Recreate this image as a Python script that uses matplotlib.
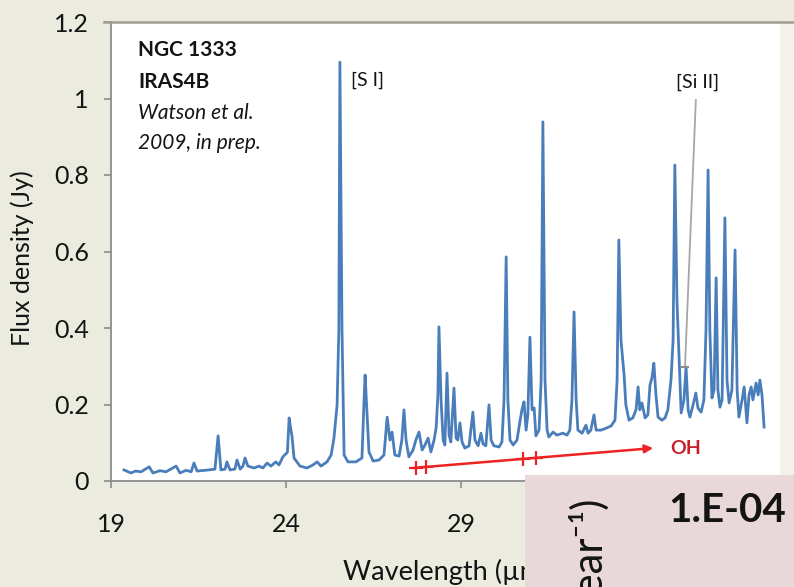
import matplotlib
matplotlib.use("Agg")
import matplotlib.pyplot as plt
from matplotlib.patches import Rectangle
from matplotlib.lines import Line2D

# Spectrum of NGC 1333 IRAS4B: wavelength (um) and flux density (Jy)
wavelength_um = [
    19.37, 19.57, 19.70, 19.86, 20.09, 20.20, 20.40, 20.57, 20.86, 20.97,
    21.15, 21.29, 21.37, 21.46, 21.80, 21.97, 22.06, 22.14, 22.26, 22.31,
    22.40, 22.54, 22.60, 22.69, 22.77, 22.83, 22.91, 23.09, 23.23, 23.34,
    23.46, 23.57, 23.71, 23.80, 23.91, 24.04, 24.09, 24.13, 24.17, 24.23,
    24.40, 24.60, 24.77, 24.89, 25.00, 25.17, 25.29, 25.37, 25.46, 25.51,
    25.54, 25.60, 25.66, 25.77, 26.00, 26.17, 26.23, 26.26, 26.31, 26.37,
    26.49, 26.66, 26.80, 26.89, 26.97, 27.03, 27.11, 27.23, 27.31, 27.37,
    27.43, 27.51, 27.63, 27.71, 27.80, 27.89, 27.97, 28.06, 28.14, 28.23,
    28.29, 28.34, 28.37, 28.43, 28.49, 28.54, 28.60, 28.66, 28.71, 28.80,
    28.86, 28.91, 28.97, 29.03, 29.11, 29.23, 29.34, 29.40, 29.49, 29.57,
    29.63, 29.71, 29.80, 29.86, 29.94, 30.09, 30.17, 30.23, 30.29, 30.34,
    30.40, 30.49, 30.60, 30.69, 30.74, 30.80, 30.86, 30.91, 30.97, 31.03,
    31.09, 31.14, 31.23, 31.29, 31.34, 31.40, 31.46, 31.51, 31.63, 31.74,
    31.91, 32.03, 32.11, 32.17, 32.23, 32.29, 32.34, 32.46, 32.57, 32.63,
    32.71, 32.80, 32.86, 33.00, 33.17, 33.29, 33.40, 33.46, 33.51, 33.57,
    33.66, 33.71, 33.80, 33.91, 34.00, 34.06, 34.11, 34.17, 34.26, 34.34,
    34.40, 34.46, 34.51, 34.57, 34.63, 34.74, 34.83, 34.91, 35.00, 35.06,
    35.11, 35.17, 35.23, 35.29, 35.37, 35.43, 35.49, 35.54, 35.63, 35.71,
    35.77, 35.86, 35.94, 36.00, 36.06, 36.11, 36.17, 36.23, 36.29, 36.34,
    36.40, 36.46, 36.54, 36.60, 36.66, 36.74, 36.83, 36.89, 36.94, 37.03,
    37.09, 37.17, 37.23, 37.29, 37.34, 37.43, 37.49, 37.54, 37.60, 37.66,
]
flux_jy = [
    0.029, 0.021, 0.026, 0.024, 0.037, 0.021, 0.027, 0.024, 0.039, 0.021,
    0.028, 0.024, 0.047, 0.026, 0.029, 0.031, 0.118, 0.029, 0.031, 0.050,
    0.029, 0.031, 0.055, 0.031, 0.039, 0.060, 0.039, 0.034, 0.039, 0.034,
    0.047, 0.039, 0.050, 0.042, 0.063, 0.075, 0.165, 0.140, 0.118, 0.060,
    0.039, 0.034, 0.042, 0.050, 0.039, 0.050, 0.068, 0.112, 0.199, 0.395,
    1.095, 0.395, 0.068, 0.050, 0.050, 0.060, 0.212, 0.277, 0.186, 0.076,
    0.052, 0.055, 0.068, 0.167, 0.107, 0.128, 0.068, 0.065, 0.107, 0.186,
    0.107, 0.063, 0.081, 0.107, 0.128, 0.081, 0.094, 0.112, 0.076, 0.107,
    0.139, 0.225, 0.403, 0.212, 0.107, 0.094, 0.282, 0.120, 0.102, 0.243,
    0.112, 0.107, 0.152, 0.102, 0.086, 0.092, 0.180, 0.107, 0.092, 0.125,
    0.097, 0.092, 0.199, 0.107, 0.092, 0.089, 0.102, 0.212, 0.586, 0.212,
    0.107, 0.094, 0.107, 0.159, 0.186, 0.207, 0.133, 0.173, 0.376, 0.186,
    0.191, 0.118, 0.133, 0.264, 0.939, 0.264, 0.133, 0.115, 0.128, 0.120,
    0.125, 0.120, 0.133, 0.212, 0.442, 0.212, 0.133, 0.125, 0.146, 0.125,
    0.133, 0.173, 0.133, 0.133, 0.139, 0.144, 0.159, 0.264, 0.630, 0.369,
    0.277, 0.199, 0.159, 0.165, 0.186, 0.246, 0.186, 0.204, 0.165, 0.173,
    0.251, 0.272, 0.308, 0.225, 0.167, 0.159, 0.165, 0.186, 0.264, 0.369,
    0.826, 0.473, 0.329, 0.178, 0.212, 0.298, 0.186, 0.167, 0.199, 0.230,
    0.191, 0.180, 0.212, 0.395, 0.813, 0.395, 0.217, 0.238, 0.531, 0.238,
    0.193, 0.212, 0.688, 0.264, 0.204, 0.238, 0.604, 0.238, 0.167, 0.212,
    0.246, 0.152, 0.225, 0.246, 0.212, 0.256, 0.225, 0.264, 0.225, 0.141,
]

# OH ladder: start/end of the bar and the tick marks on it
oh_bar_um = [27.63, 34.49]
oh_bar_jy = [0.034, 0.086]
oh_mark_um = [27.71, 28.00, 30.77, 31.14]
oh_mark_jy = [0.035, 0.037, 0.058, 0.061]

# [Si II] pointer: label end and line position
si_pointer_um = [35.71, 35.40]
si_pointer_jy = [0.996, 0.298]

x_ticks = [19, 24, 29, 34]
y_ticks = [0, 0.2, 0.4, 0.6, 0.8, 1.0, 1.2]
y_tick_labels = ["0", "0.2", "0.4", "0.6", "0.8", "1", "1.2"]

W, H = 794, 587
FONT = ["Lato", "DejaVu Sans"]
plt.rcParams["font.family"] = FONT
INK = "#141414"

fig = plt.figure(figsize=(W / 100, H / 100), dpi=100, facecolor="#ebecdf")
ax = fig.add_axes([111 / W, 1 - 481 / H, 669 / W, 459 / H])
ax.set_facecolor("white")

ax.plot(wavelength_um, flux_jy, color="#4a7ebb", lw=2.0, solid_joinstyle="round", zorder=3)

ax.set_xlim(19, 19 + 669 / 35)
ax.set_ylim(0, 1.2)
ax.set_xticks(x_ticks)
ax.set_xticklabels([str(t) for t in x_ticks])
ax.set_yticks(y_ticks)
ax.set_yticklabels(y_tick_labels)
ax.tick_params(axis="both", colors="#8c8c8c", labelcolor=INK, labelsize=18,
               length=5, width=1.2, direction="out")
ax.tick_params(axis="x", pad=18)
ax.tick_params(axis="y", pad=11)

for side in ("left", "bottom"):
    ax.spines[side].set_color("#8c8c8c")
    ax.spines[side].set_linewidth(1.3)
ax.spines["right"].set_visible(False)
ax.spines["top"].set_visible(False)

# header border running across the whole slide
fig.add_artist(Line2D([104 / W, 1.0], [1 - 22 / H, 1 - 22 / H], color="#9d9d92", lw=1.8,
                      transform=fig.transFigure, zorder=2))
# pale strip right of the plot area
fig.add_artist(Rectangle((780 / W, 1 - 475 / H), 14 / W, 452 / H, transform=fig.transFigure,
                         facecolor="#f3f3ec", edgecolor="none", zorder=1))

# annotations inside the plot
ax.text(19.77, 1.127, "NGC 1333", fontsize=15, fontweight="bold", va="center", color=INK)
ax.text(19.77, 1.043, "IRAS4B", fontsize=15, fontweight="bold", va="center", color=INK)
ax.text(19.77, 0.962, "Watson et al.", fontsize=15, style="italic", va="center", color=INK)
ax.text(19.77, 0.884, "2009, in prep.", fontsize=15, style="italic", va="center", color=INK)
ax.text(25.86, 1.048, "[S I]", fontsize=14, va="center", color=INK)
ax.text(35.77, 1.043, "[Si II]", fontsize=14, va="center", ha="center", color=INK)

ax.plot(si_pointer_um, si_pointer_jy, color="#a6a6a6", lw=1.3, zorder=4)
ax.plot(si_pointer_um[1:], si_pointer_jy[1:], marker="_", color="#8c8c8c", ms=6, mew=1.5, zorder=4)

ax.annotate("", xy=(oh_bar_um[1], oh_bar_jy[1]), xytext=(oh_bar_um[0], oh_bar_jy[0]),
            arrowprops=dict(arrowstyle="-|>", color="#ee2222", lw=1.8, mutation_scale=12,
                            shrinkA=0, shrinkB=0), zorder=4)
ax.plot(oh_mark_um, oh_mark_jy, ls="none", marker="+", color="#ee2222", ms=10, mew=1.6, zorder=4)
ax.text(34.97, 0.084, "OH", fontsize=14, fontweight="bold", color="#c8202a", va="center")

# axis titles
fig.text(22 / W, 1 - 258 / H, "Flux density (Jy)", rotation=90, ha="center", va="center",
         fontsize=18, color=INK, zorder=3)
fig.text(343 / W, 1 - 572 / H, "Wavelength (µm)", ha="left", va="center",
         fontsize=19.5, color=INK, zorder=3)

# neighbouring panel overlapping the lower right corner
fig.add_artist(Rectangle((525 / W, 0), (W - 525) / W, (H - 475) / H, transform=fig.transFigure,
                         facecolor="#e9d8d9", edgecolor="none", zorder=10))
fig.text(668 / W, 1 - 510 / H, "1.E-04", ha="left", va="center", fontsize=29,
         fontweight="bold", color=INK, zorder=11)
fig.text(588 / W, 1 - 497 / H, "(year⁻¹)", rotation=90, ha="center", va="top",
         fontsize=30, color=INK, zorder=11, family=FONT)

fig.savefig("out.png", dpi=100, facecolor=fig.get_facecolor())
